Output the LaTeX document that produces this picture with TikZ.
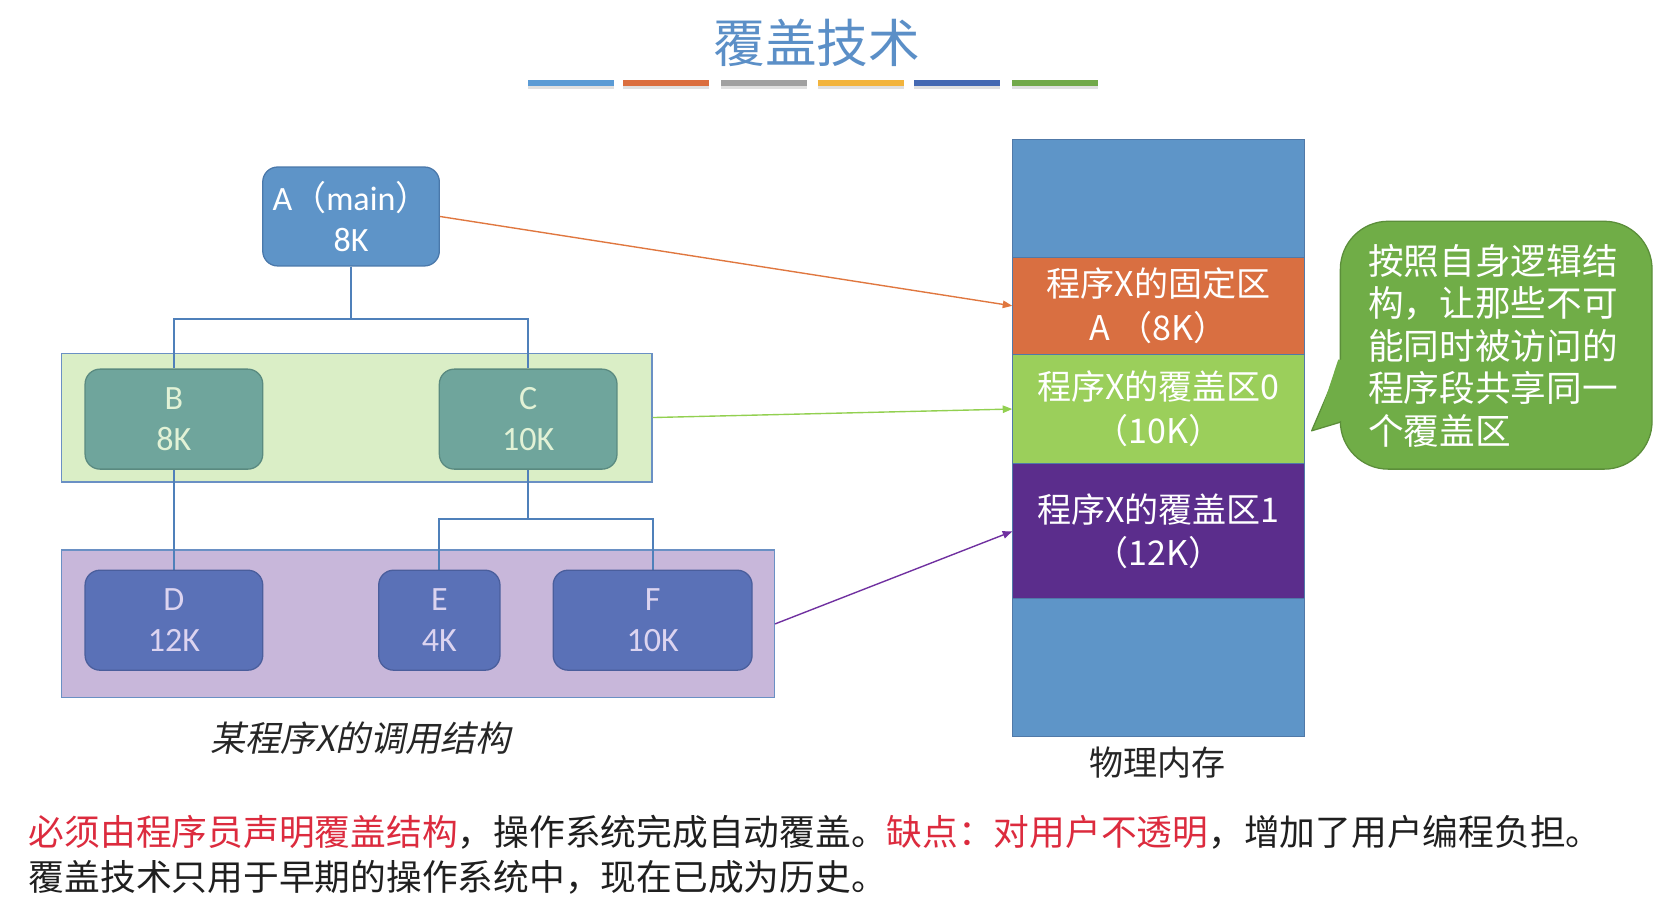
\documentclass[tikz,border=0pt]{standalone}
\usepackage{fontspec}
\setmainfont{Carlito}
\newfontfamily\cjk{Noto Sans CJK SC}
\newfontfamily\cjkit[FakeSlant=0.2]{Noto Sans CJK SC}
\usetikzlibrary{arrows.meta}
\pgfdeclarelayer{whitelayer}
\pgfdeclarelayer{panellayer}
\pgfdeclarelayer{linelayer}
\pgfsetlayers{whitelayer,panellayer,linelayer,main}
\definecolor{titleblue}{HTML}{5B8FC7}
\definecolor{barA}{HTML}{5B9BD5}
\definecolor{barB}{HTML}{DB6E3E}
\definecolor{barC}{HTML}{A0A0A0}
\definecolor{barD}{HTML}{F2B43D}
\definecolor{barE}{HTML}{4569B2}
\definecolor{barF}{HTML}{72A94A}
\definecolor{cA}{HTML}{5E94C8}
\definecolor{cAd}{HTML}{4A78AA}
\definecolor{cT}{HTML}{6FA59C}
\definecolor{cTd}{HTML}{5A8A80}
\definecolor{cTtext}{HTML}{E2F2D6}
\definecolor{cD}{HTML}{5A71B7}
\definecolor{cDd}{HTML}{4A5E9C}
\definecolor{cDtext}{HTML}{DCD4F0}
\definecolor{pGreen}{HTML}{DAEEC6}
\definecolor{pPurple}{HTML}{C8B7DA}
\definecolor{pBorder}{HTML}{6A90C4}
\definecolor{treeLine}{HTML}{4F80BA}
\definecolor{mBlue}{HTML}{5E95C8}
\definecolor{mBlueD}{HTML}{5079A8}
\definecolor{mOr}{HTML}{D96F41}
\definecolor{mGr}{HTML}{9BCF5B}
\definecolor{mPu}{HTML}{5B2D8C}
\definecolor{arrOr}{HTML}{E0773F}
\definecolor{arrGr}{HTML}{92D050}
\definecolor{arrPu}{HTML}{7030A0}
\definecolor{bub}{HTML}{70AD47}
\definecolor{bubD}{HTML}{5B8E3A}
\definecolor{redtext}{HTML}{DC2B3E}
\begin{document}
\begin{tikzpicture}[x=1pt,y=-1pt,
  box/.style={rounded corners=14pt, inner sep=0pt, align=center, line width=1.2pt, font=\fontsize{32}{39}\selectfont},
  abox/.style={box, fill=cA, draw=cAd, text=white, minimum width=166pt, minimum height=93pt},
  tbox/.style={box, fill=cT, draw=cTd, text=cTtext, minimum width=167pt, minimum height=94pt},
  dbox/.style={box, fill=cD, draw=cDd, text=cDtext, minimum height=94pt},
  panel/.style={rectangle, inner sep=0pt, draw=pBorder, line width=1.2pt},
  tree/.style={draw=treeLine, line width=2pt},
  seg/.style={rectangle, minimum width=274pt, inner sep=0pt, align=center, font=\cjk\fontsize{32}{41}\selectfont, text=white, line width=0.8pt},
  arr/.style={line width=1.3pt, -{Triangle[length=9pt,width=7pt]}},
  bar/.style={rectangle, inner sep=0pt, minimum height=6pt, minimum width=81pt}
]
\useasboundingbox (0,0) rectangle (1568,867);
\begin{pgfonlayer}{whitelayer}
\fill[white] (0,0) rectangle (1568,867);
\end{pgfonlayer}

% title
\node[text=titleblue, font=\cjk\fontsize{48.5}{50}\selectfont, inner sep=0pt] (title) at (768,40) {覆盖技术};
\foreach \xx/\cc [count=\i] in {536.5/barA, 626/barB, 718/barC, 809/barD, 900/barE, 991.5/barF}{
  \fill[black!12] (\xx-40.5,80) rectangle (\xx+40.5,84);
  \node[bar, fill=\cc] (bar\i) at (\xx,78) {};
}

% panels
\begin{pgfonlayer}{panellayer}
\node[panel, fill=pGreen, minimum width=555pt, minimum height=121pt] (gpanel) at (335.5,392.5) {};
\node[panel, fill=pPurple, minimum width=670pt, minimum height=139pt] (ppanel) at (393,586.5) {};
\end{pgfonlayer}

% nodes of the tree
\node[abox] (A) at (330,203.5) {A{\cjk （}main{\cjk ）}\\8K};
\node[tbox] (B) at (163.5,394) {B\\8K};
\node[tbox] (C) at (496.5,394) {C\\10K};
\node[dbox, minimum width=167pt] (D) at (163.5,583) {D\\12K};
\node[dbox, minimum width=114pt] (E) at (413,583) {E\\4K};
\node[dbox, minimum width=187pt] (F) at (613.5,583) {F\\10K};

% tree lines (under the boxes)
\begin{pgfonlayer}{linelayer}
\draw[tree] (A.south) -- ++(0,49) -| (B.north);
\draw[tree] (A.south) -- ++(0,49) -| (C.north);
\draw[tree] (B.south) -- (D.north);
\draw[tree] (C.south) -- ++(0,46) -| (E.north);
\draw[tree] (C.south) -- ++(0,46) -| (F.north);
\end{pgfonlayer}

\node[font=\cjkit\fontsize{33}{35}\selectfont, text=black!85, inner sep=0pt] (cap) at (339,694) {某程序X的调用结构};

% memory column
\node[seg, fill=mBlue, draw=mBlueD, minimum height=111pt] (m1) at (1089,186.5) {};
\node[seg, fill=mOr, draw=mBlueD, minimum height=91pt] (m2) at (1089,287.5) {程序X的固定区\\A （8K）};
\node[seg, fill=mGr, draw=mBlueD, minimum height=103pt] (m3) at (1089,384.5) {程序X的覆盖区0\\（10K）};
\node[seg, fill=mPu, draw=mBlueD, minimum height=127pt] (m4) at (1089,499.5) {程序X的覆盖区1\\（12K）};
\node[seg, fill=mBlue, draw=mBlueD, minimum height=129pt] (m5) at (1089,627.5) {};
\node[font=\cjk\fontsize{32}{34}\selectfont, text=black!85, inner sep=0pt] (memcap) at (1088,717) {物理内存};

% arrows
\draw[arr, arrOr] (A.east) -- (m2.west);
\draw[arr, arrGr] (gpanel.east) -- (m3.west);
\draw[arr, arrPu] (ppanel.east) -- (m4.west);

% speech bubble
\draw[fill=bub, draw=bubD, line width=1.2pt, line join=round] (1263,335) -- (1233,405) -- (1263,396);
\draw[fill=bub, draw=bubD, line width=1.2pt, rounded corners=45pt] (1260,208) rectangle (1553,441);
\fill[bub] (1258,338) -- (1237,402) -- (1266,394) -- (1266,338) -- cycle;
\node[font=\cjk\fontsize{33.5}{40}\selectfont, text=white, align=left, anchor=west, inner sep=0pt] (bubtext) at (1286,325)
  {按照自身逻辑结\\构，让那些不可\\能同时被访问的\\程序段共享同一\\个覆盖区};

% bottom text
\node[font=\cjk\fontsize{33.6}{36}\selectfont, anchor=west, inner sep=0pt, text=black!88] (line1) at (27,782)
  {\textcolor{redtext}{必须由程序员声明覆盖结构}，操作系统完成自动覆盖。\textcolor{redtext}{缺点：对用户不透明}，增加了用户编程负担。};
\node[font=\cjk\fontsize{33.6}{36}\selectfont, anchor=west, inner sep=0pt, text=black!88] (line2) at (27,825)
  {覆盖技术只用于早期的操作系统中，现在已成为历史。};
\end{tikzpicture}
\end{document}
